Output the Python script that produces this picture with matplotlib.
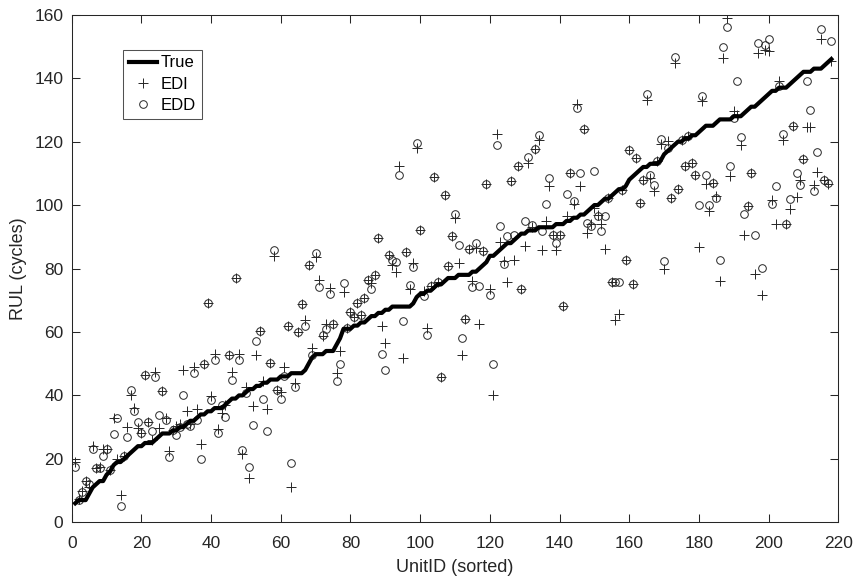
import matplotlib

matplotlib.use("Agg")
import matplotlib.pyplot as plt
import numpy as np

plt.rcParams["font.family"] = ["Liberation Sans", "DejaVu Sans"]

# true RUL per unit, sorted
true_rul = [6, 7, 7, 7, 9, 11, 12, 13, 13, 15, 16, 18, 19, 19, 20, 21, 22, 23, 24,
            24, 25, 25, 25, 26, 27, 28, 28, 28, 29, 29, 30, 30, 31, 32, 32, 33, 34, 34, 35,
            35, 36, 36, 36, 37, 38, 39, 39, 40, 40, 41, 42, 42, 43, 43, 44, 44, 45, 45, 45,
            46, 46, 46, 47, 47, 47, 47, 48, 50, 52, 53, 53, 53, 54, 54, 54, 56, 58, 61, 61,
            61, 62, 62, 63, 63, 64, 65, 65, 66, 66, 67, 67, 68, 68, 68, 68, 68, 68, 69, 71,
            72, 72, 73, 73, 74, 75, 75, 76, 77, 77, 77, 78, 78, 78, 78, 79, 79, 80, 81, 82,
            84, 84, 85, 86, 87, 88, 88, 89, 90, 91, 91, 92, 92, 92, 93, 93, 93, 93, 93, 94,
            94, 94, 95, 95, 96, 96, 97, 97, 98, 99, 100, 100, 101, 102, 102, 103, 104, 105, 105, 106,
            108, 109, 110, 111, 112, 112, 113, 113, 113, 114, 116, 117, 118, 119, 120, 120, 121, 121, 122, 122,
            123, 124, 125, 125, 125, 126, 127, 127, 127, 127, 128, 128, 128, 129, 130, 131, 131, 132, 133, 134,
            135, 136, 136, 137, 137, 137, 138, 139, 140, 141, 142, 142, 142, 143, 143, 143, 144, 145, 146]

edi = [19, 7.5, 10, 13, 11, 24, 17, 17.5, 23, 23, 16.5, 33, 20, 8.5, 21, 30, 40, 36, 29.6,
       28, 46.3, 31.5, 26, 47.3, 29.6, 41.4, 33, 22.5, 29, 30.4, 31, 48, 35, 31, 49, 35.8, 24.8, 49.8, 69,
       39.8, 52.9, 29.5, 34.5, 37, 52.7, 47.3, 77, 52.9, 21.4, 42.7, 14, 36.6, 52.7, 60.3, 44.5, 35.6, 50.3, 83.9, 41.7,
       41, 49, 61.8, 11, 44, 60, 68.7, 63.7, 81, 54.8, 83.5, 76.5, 58.7, 62.4, 74, 62.4, 47.1, 54, 72.7, 61.3,
       66.4, 64.8, 69.2, 65.2, 70.8, 76.5, 75.3, 78.1, 89.7, 61.8, 56.6, 84.4, 81, 79, 112.4, 51.9, 85.3, 73.4, 81.8, 118,
       92, 72.8, 61.3, 74.4, 109, 75.8, 45.8, 103.2, 80.7, 90.2, 96, 81.6, 52.7, 64.2, 86, 76, 86.5, 62.6, 85.6, 106.5,
       73.4, 40, 122.4, 88.5, 82.3, 75.7, 107.5, 82.8, 112.2, 73.4, 87, 113.3, 93, 117.7, 120.6, 85.7, 95, 106, 90.5, 85.8,
       90.7, 68.3, 96.7, 110, 100.2, 132, 106, 124, 91.2, 94, 99, 97, 94, 86, 102.3, 75.8, 63.7, 65.7, 104.9, 82.6,
       117.5, 75, 114.9, 100.7, 107.8, 133.2, 108.5, 104.4, 114, 119.3, 79.7, 120.1, 102.3, 144.8, 105.1, 120.6, 112.2, 121.7, 113.1, 109.5,
       86.8, 132.7, 106.5, 98, 107, 103, 76, 146.3, 159, 109.1, 129.5, 128.5, 119, 90.7, 99.8, 110.1, 78.3, 148, 71.5, 148.8,
       148.5, 101.7, 94, 139, 120.4, 94, 98.9, 125, 102.5, 108, 114.6, 124.7, 124.7, 106.2, 110.3, 152.3, 108, 106.5, 145.5]

edd = [17.5, 7, 9.5, 13, 12, 23, 17, 17, 21, 23, 16.5, 27.7, 33, 5, 21, 27, 41.7, 35, 31.5,
       28, 46.3, 31.5, 28.8, 45.7, 33.7, 41.4, 32.2, 20.5, 29, 27.4, 30, 40, 31, 30.3, 47, 32.4, 20, 49.8, 69,
       38.4, 51.3, 28, 37, 33.3, 52.7, 44.8, 77, 51.3, 22.8, 40.8, 17.5, 30.6, 57.3, 60.3, 39, 28.8, 50.3, 85.8, 41.7,
       39, 46, 61.8, 18.6, 42.7, 60, 68.7, 62, 81, 52.7, 85, 74.2, 59, 60.8, 72, 62.4, 44.5, 50, 75.3, 61.3,
       66.4, 64.8, 69.2, 65.2, 70.8, 76.5, 73.4, 78.1, 89.7, 52.9, 47.9, 84.4, 82.6, 82, 109.5, 63.4, 85.3, 74.7, 80.4, 119.6,
       92, 71.3, 58.9, 74.4, 109, 75.8, 45.8, 103.2, 80.7, 90.2, 97.2, 87.3, 58.2, 64.2, 86, 74.2, 88.1, 74.4, 85.6, 106.5,
       71.6, 50, 118.8, 93.3, 81.3, 90.2, 107.5, 90.7, 112.2, 73.4, 94.9, 115.2, 93.6, 117.7, 122, 91.8, 100.2, 108.6, 90.5, 87.9,
       90.7, 68.3, 103.6, 110.1, 101.2, 130.6, 110, 124, 94.2, 93.5, 110.7, 96.5, 91.8, 96.5, 102.3, 75.8, 75.8, 75.8, 104.9, 82.6,
       117.5, 75, 114.9, 100.7, 107.8, 135, 109.6, 106.2, 114, 120.8, 82.5, 118, 102.3, 146.6, 105.1, 120.6, 112.2, 121.7, 113.1, 109.5,
       100, 134.3, 109.6, 100, 107, 102.3, 82.8, 149.7, 156.1, 112.2, 127.5, 139, 121.5, 97.2, 99.8, 110.1, 90.7, 151.1, 80.2, 150.4,
       152.4, 100.2, 106, 137.6, 122.4, 94, 102, 125, 110.1, 106.2, 114.6, 139, 129.9, 104.4, 116.6, 155.6, 108, 107, 151.6]

units = np.arange(1, len(true_rul) + 1)
grey = "#262626"

fig = plt.figure(figsize=(8.55, 5.79), dpi=100)
ax = fig.add_axes([0.0839, 0.0979, 0.8966, 0.8767])

ax.plot(units, true_rul, color="black", lw=3, label="True", zorder=3)
ax.plot(units, edi, ls="none", marker="+", ms=6.5, mew=0.7, color=grey, label="EDI")
ax.plot(units, edd, ls="none", marker="o", ms=5.5, mew=0.7, mfc="none", mec=grey, label="EDD")

ax.set_xlim(0, 220)
ax.set_ylim(0, 160)
ax.set_xticks(np.arange(0, 221, 20))
ax.set_yticks(np.arange(0, 161, 20))
ax.tick_params(direction="in", top=True, right=True, length=5.5, width=0.75,
               colors=grey, labelsize=12.5)
ax.tick_params(axis="x", pad=10)
ax.tick_params(axis="y", pad=6)
for s in ax.spines.values():
    s.set_color(grey)
    s.set_linewidth(0.75)

ax.set_xlabel("UnitID (sorted)", fontsize=13, color=grey)
ax.set_ylabel("RUL (cycles)", fontsize=13, color=grey)
ax.xaxis.set_label_coords(0.5, -0.072)
ax.yaxis.set_label_coords(-0.058, 0.5)

leg = ax.legend(loc="upper left", bbox_to_anchor=(0.0669, 0.9305), borderaxespad=0,
                fontsize=12, fancybox=False, handlelength=1.7, handletextpad=0.25,
                borderpad=0.33, labelspacing=0.38)
leg.get_frame().set_edgecolor(grey)
leg.get_frame().set_linewidth(0.75)

plt.savefig("out.png", dpi=100)
